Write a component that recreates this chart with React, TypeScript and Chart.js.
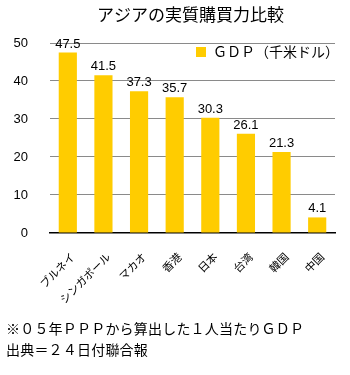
import React, { useEffect, useRef } from "react";
import { Chart, registerables } from "chart.js";

Chart.register(...registerables);

const TITLE = "アジアの実質購買力比較";
const categories = ["ブルネイ", "シンガポール", "マカオ", "香港", "日本", "台湾", "韓国", "中国"];
const gdpValues = [47.5, 41.5, 37.3, 35.7, 30.3, 26.1, 21.3, 4.1];
const seriesLabel = "ＧＤＰ（千米ドル）";
const yMin = 0;
const yMax = 50;
const yStep = 10;
const notes = ["※０５年ＰＰＰから算出した１人当たりＧＤＰ", "出典＝２４日付聯合報"];

const FONT = '"Liberation Sans", "Noto Sans CJK JP", sans-serif';
const JFONT = '"Noto Sans CJK JP", "Liberation Sans", sans-serif';
const BAR = "#FFCC00";

const overlayPlugin = {
  id: "overlay",
  afterDatasetsDraw(chart: any) {
    const { ctx, chartArea } = chart;
    const meta = chart.getDatasetMeta(0);
    ctx.save();
    // value labels
    ctx.fillStyle = "#000";
    ctx.font = `13px ${FONT}`;
    ctx.textAlign = "center";
    ctx.textBaseline = "bottom";
    meta.data.forEach((bar: any, i: number) => {
      ctx.fillText(String(gdpValues[i]), bar.x, bar.y - 2);
    });
    // title
    ctx.font = `17px ${JFONT}`;
    ctx.textBaseline = "middle";
    ctx.fillText(TITLE, (chartArea.left + chartArea.right) / 2 - 2, 15);
    // legend
    ctx.fillStyle = BAR;
    ctx.fillRect(196, 47, 10, 10);
    ctx.fillStyle = "#000";
    ctx.font = `14px ${JFONT}`;
    ctx.textAlign = "left";
    ctx.fillText(seriesLabel, 213, 52);
    ctx.restore();
  },
};

export default function App() {
  const ref = useRef<HTMLCanvasElement>(null);
  useEffect(() => {
    const chart = new Chart(ref.current!, {
      type: "bar",
      data: {
        labels: categories,
        datasets: [
          {
            label: seriesLabel,
            data: gdpValues,
            backgroundColor: BAR,
            borderWidth: 0,
            barPercentage: 0.51,
            categoryPercentage: 1,
          },
        ],
      },
      options: {
        animation: false,
        responsive: false,
        maintainAspectRatio: false,
        layout: { padding: { top: 43, left: 13, right: 15, bottom: 0 } },
        plugins: {
          legend: { display: false },
          title: { display: false },
          tooltip: { enabled: false },
        },
        scales: {
          x: {
            grid: { display: false, drawTicks: false },
            border: { display: true, color: "#000", width: 1.5 },
            afterFit: (scale: any) => {
              scale.paddingLeft = 0;
              scale.paddingRight = 0;
              scale.getPadding = () => ({ left: 0, right: 0, top: 0, bottom: 0 });
            },
            ticks: {
              color: "#000",
              font: { size: 11, family: JFONT },
              maxRotation: 45,
              minRotation: 45,
              padding: 17,
              labelOffset: 5,
              autoSkip: false,
            },
          },
          y: {
            min: yMin,
            max: yMax,
            afterFit: (scale: any) => {
              scale.width = 37;
            },
            grid: {
              drawTicks: false,
              color: (c: any) => (c.tick && c.tick.value === 0 ? "#000" : "#8a8a8a"),
            },
            border: { display: false },
            ticks: {
              stepSize: yStep,
              color: "#000",
              font: { size: 13, family: FONT },
              padding: 22,
            },
          },
        },
      },
      plugins: [overlayPlugin],
    });
    return () => chart.destroy();
  }, []);

  return (
    <div
      style={{
        position: "fixed",
        left: 0,
        top: 0,
        width: 350,
        height: 375,
        background: "#fff",
        overflow: "hidden",
      }}
    >
      <canvas ref={ref} width={350} height={323} style={{ display: "block" }} />
      {notes.map((n, i) => (
        <div
          key={i}
          style={{
            position: "absolute",
            left: 6,
            top: 318 + i * 21,
            fontFamily: JFONT,
            fontSize: 14,
            letterSpacing: "0.2px",
            lineHeight: "20px",
            color: "#000",
            whiteSpace: "nowrap",
          }}
        >
          {n}
        </div>
      ))}
    </div>
  );
}
